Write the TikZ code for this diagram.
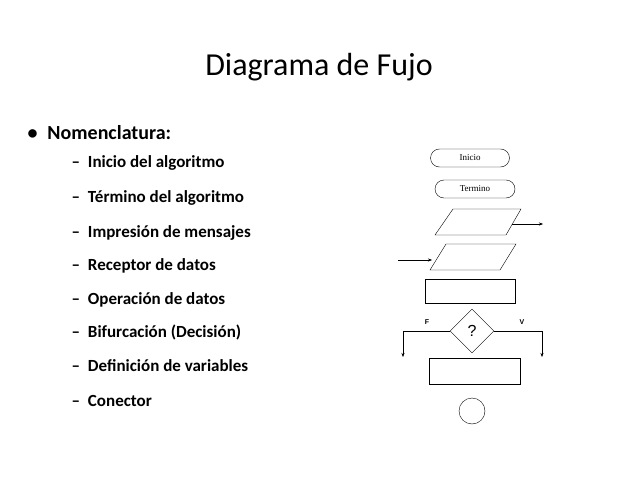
\documentclass[tikz,border=0pt]{standalone}
\usepackage{fontspec}
\setmainfont{Carlito}
\newfontfamily\timesfont{Liberation Serif}
\newfontfamily\arialfont{Liberation Sans}
\usetikzlibrary{arrows.meta, shapes.geometric, shapes.misc}

\begin{document}
\begin{tikzpicture}[x=1pt, y=-1pt,
      term/.style={draw, rounded rectangle, minimum width=79pt, minimum height=18pt, inner sep=0pt, font=\timesfont\fontsize{9}{10}\selectfont},
      proc/.style={draw, minimum height=25pt, inner sep=0pt},
      item/.style={anchor=west, font=\fontsize{17}{20}\selectfont\bfseries},
      arr/.style={-{Stealth[length=4pt]}, thin}
    ]
      \useasboundingbox (0,0) rectangle (638,479);
      \node[font=\fontsize{32}{36}\selectfont] (title) at (319,67) {Diagrama de Fujo};
      \node[anchor=west, font=\fontsize{20}{24}\selectfont\bfseries] (nom) at (24,133) {\textbullet\hspace{10pt}Nomenclatura:};

      % list of symbols
      \foreach \y/\txt in {163/Inicio del algoritmo, 198/Término del algoritmo, 233/Impresión de mensajes, 266/Receptor de datos, 300/Operación de datos, 332/Bifurcación (Decisión), 366/Definición de variables, 401/Conector}
        \node[item] at (68,\y) {--\hspace{8pt}\txt};

      % symbols on the right
      \node[term] (ini) at (470,158) {Inicio};
      \node[term, minimum width=80pt] (fin) at (475,189) {Termino};
      \draw (453,209) -- (521,209) -- (506,235) -- (435,235) -- cycle;
      \draw (446,244) -- (516,244) -- (500,270) -- (430,270) -- cycle;
      \node[proc, minimum width=90pt, minimum height=24pt] (op) at (470,291) {};
      \node[draw, diamond, minimum width=44pt, minimum height=44pt, inner sep=0pt, font=\arialfont\fontsize{16}{18}\selectfont] (dec) at (472,331) {?};
      \node[proc, minimum width=91pt, minimum height=26pt] (def) at (475,371) {};
      \node[draw, circle, minimum size=26pt, inner sep=0pt] (con) at (472,411) {};

      \coordinate (outStart) at (512,224);
      \coordinate (outEnd) at (543,224);
      \coordinate (inStart) at (398,260);
      \coordinate (inEnd) at (432,260);
      \draw[arr] (outStart) -- (outEnd);
      \draw[arr] (inStart) -- (inEnd);
      \draw[arr] (dec.west) -| (403,357);
      \draw[arr] (dec.east) -| (542,357);
      \node[font=\arialfont\bfseries\fontsize{7}{8}\selectfont] (f) at (427,322) {F};
      \node[font=\arialfont\bfseries\fontsize{7}{8}\selectfont] (v) at (522,322) {V};
    \end{tikzpicture}
\end{document}
